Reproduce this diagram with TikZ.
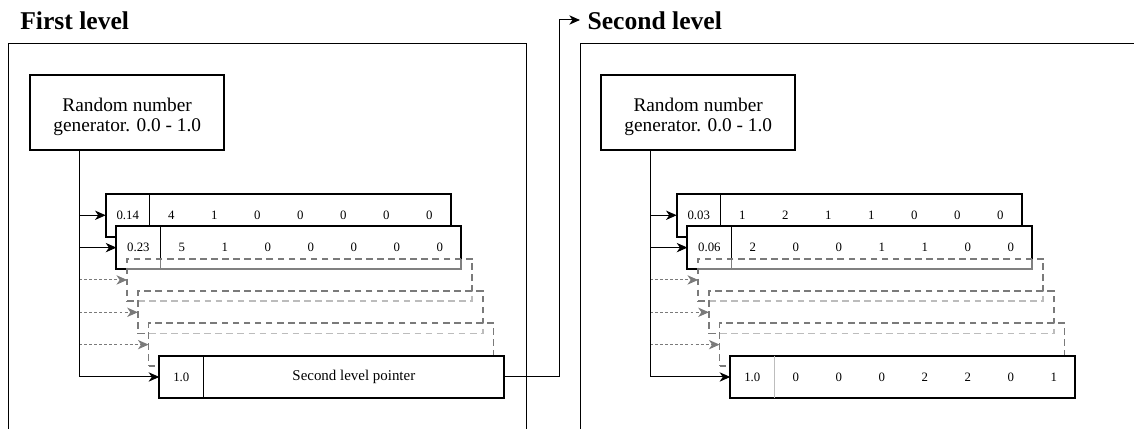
\documentclass[tikz,border=0pt]{standalone}
\usepackage{fontspec}
\setmainfont{Liberation Serif}
\usetikzlibrary{arrows.meta}

\definecolor{ghostgray}{HTML}{7A7A7A}
\definecolor{softdiv}{HTML}{BDBDBD}

\tikzset{
  panel/.style={draw, line width=0.9pt},
  heading/.style={font=\bfseries\fontsize{19.2}{23}\selectfont, anchor=base west, inner sep=0pt},
  rngbox/.style={draw, line width=1.5pt, minimum width=145.7pt, minimum height=56.25pt,
    inner sep=0pt, outer sep=0pt},
  rnglabel/.style={font=\fontsize{14.5}{15}\selectfont, align=center, inner sep=0pt},
  rowbox/.style={draw, line width=1.5pt, fill=white, minimum width=258.75pt,
    minimum height=31.9pt, inner sep=0pt, outer sep=0pt, anchor=north west},
  ghostbox/.style={rowbox, draw=ghostgray, line width=1.35pt, dash pattern=on 5pt off 3.3pt,
    fill opacity=0.5},
  cell/.style={font=\fontsize{9.6}{11}\selectfont, inner sep=0pt},
  wide cell/.style={font=\fontsize{11.2}{13}\selectfont, inner sep=0pt},
  divider/.style={line width=0.75pt},
  link/.style={line width=0.75pt, -{Stealth[length=8pt,width=7pt,inset=2.4pt]}},
  ghostlink/.style={draw=ghostgray, line width=0.8pt, dash pattern=on 2.2pt off 1.6pt,
    -{Stealth[length=8pt,width=7pt,inset=2.4pt]}},
}

% one stacked row: #1 name, #2 first cell, #3 list of the seven values
\newcommand\valuerow[3]{%
  \draw[divider] ([xshift=33pt]#1.north west) -- ([xshift=33pt]#1.south west);
  \node[cell] (#1-0) at ([xshift=16.5pt]#1.west) {#2};
  \foreach \v [count=\i] in {#3}
    \node[cell] (#1-\i) at ([xshift={33pt+32.25pt*(\i-0.5)}]#1.west) {\v};
}

\begin{document}
\begin{tikzpicture}[x=0.75pt, y=-0.75pt]
\useasboundingbox (0,0) rectangle (1134,428);

% the two level frames (they run past the lower and right page edges)
\draw[panel] (8.3,43.3) rectangle (526.7,450);
\draw[panel] (580.7,43.3) rectangle (1160,450);

\node[heading] (titleA) at (20,29.3) {First level};
\node[heading] (titleB) at (587.3,29.3) {Second level};

% ---------- first level ----------
\node[rngbox] (rngA) at (127.2,112.5) {};
\node[rnglabel] (rngtextA) at (127.2,117.2) {Random number\\generator. 0.0 - 1.0};
\coordinate (trunkA) at (79,150);

\node[rowbox] (rowA1) at (105.7,194) {};
\valuerow{rowA1}{0.14}{4,1,0,0,0,0,0}
\node[rowbox] (rowA2) at (116.42,226.34) {};
\valuerow{rowA2}{0.23}{5,1,0,0,0,0,0}
\node[ghostbox] (rowA3) at (127.14,258.68) {};
\node[ghostbox] (rowA4) at (137.86,291.02) {};
\node[ghostbox] (rowA5) at (148.58,323.36) {};
\node[rowbox] (rowA6) at (159.3,355.7) {};
\draw[divider] ([xshift=33pt]rowA6.north west) -- ([xshift=33pt]rowA6.south west);
\node[cell] (rowA6-0) at ([xshift=16.5pt]rowA6.west) {1.0};
\node[wide cell] (rowA6-1) at ([xshift=145.9pt]rowA6.west) {Second level pointer};

\draw[line width=0.75pt] (rngA.south -| trunkA) -- (trunkA);
\draw[link] (trunkA |- rowA1.west) -- (rowA1.west);
\draw[link] (trunkA |- rowA2.west) -- (rowA2.west);
\draw[ghostlink] (trunkA |- rowA3.west) -- (rowA3.west);
\draw[ghostlink] (trunkA |- rowA4.west) -- (rowA4.west);
\draw[ghostlink] (trunkA |- rowA5.west) -- (rowA5.west);
\draw[link] (trunkA) |- (rowA6.west);

% ---------- second level ----------
\begin{scope}[xshift=428.25pt]
\node[rngbox] (rngB) at (127.2,112.5) {};
\node[rnglabel] (rngtextB) at (127.2,117.2) {Random number\\generator. 0.0 - 1.0};
\coordinate (trunkB) at (79,150);

\node[rowbox] (rowB1) at (105.7,194) {};
\valuerow{rowB1}{0.03}{1,2,1,1,0,0,0}
\node[rowbox] (rowB2) at (116.42,226.34) {};
\valuerow{rowB2}{0.06}{2,0,0,1,1,0,0}
\node[ghostbox] (rowB3) at (127.14,258.68) {};
\node[ghostbox] (rowB4) at (137.86,291.02) {};
\node[ghostbox] (rowB5) at (148.58,323.36) {};
\node[rowbox] (rowB6) at (159.3,355.7) {};
\begin{scope}[divider/.append style={draw=softdiv}]
\valuerow{rowB6}{1.0}{0,0,0,2,2,0,1}
\end{scope}

\draw[line width=0.75pt] (rngB.south -| trunkB) -- (trunkB);
\draw[link] (trunkB |- rowB1.west) -- (rowB1.west);
\draw[link] (trunkB |- rowB2.west) -- (rowB2.west);
\draw[ghostlink] (trunkB |- rowB3.west) -- (rowB3.west);
\draw[ghostlink] (trunkB |- rowB4.west) -- (rowB4.west);
\draw[ghostlink] (trunkB |- rowB5.west) -- (rowB5.west);
\draw[link] (trunkB) |- (rowB6.west);
\end{scope}

% pointer from the first level to the second level
\coordinate (bendB) at (559,20);
\draw[link, shorten >=5.5pt] (rowA6.east) -| (bendB) -- (bendB -| titleB.west);
\end{tikzpicture}
\end{document}
